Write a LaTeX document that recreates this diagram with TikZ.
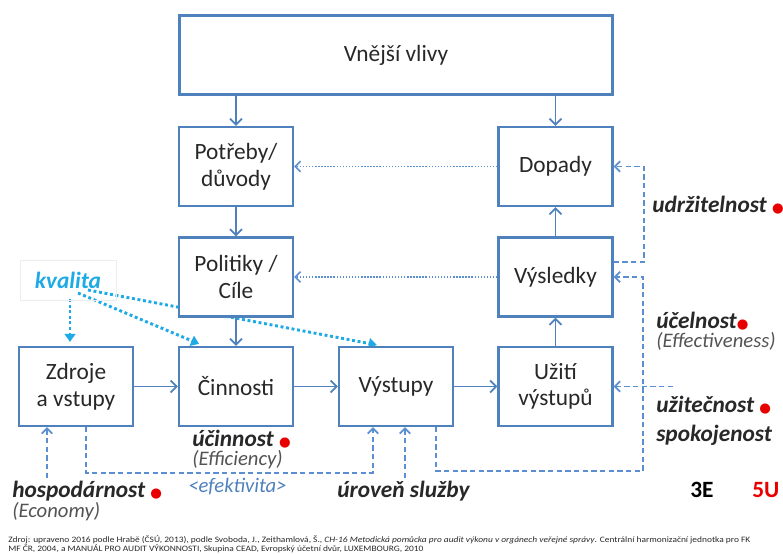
\documentclass[tikz,border=0pt]{standalone}
\usepackage{fontspec}
\setmainfont{Carlito}
\newfontfamily\dotfont{DejaVu Sans}
\newfontfamily\notefont[FakeStretch=1.14]{Carlito}
\usetikzlibrary{arrows.meta,backgrounds,calc}
\definecolor{boxblue}{RGB}{79,129,189}
\definecolor{linkblue}{RGB}{91,143,210}
\definecolor{kvalblue}{RGB}{30,170,230}
\definecolor{txtgray}{RGB}{40,40,40}
\definecolor{dotred}{RGB}{232,0,0}
\newcommand\reddot{{\dotfont\fontsize{10}{10}\selectfont\textcolor{dotred}{●}}}
\tikzset{
  stage/.style={draw=boxblue, line width=1.6pt, fill=white, minimum width=85.5pt,
    minimum height=59.25pt, align=center, text=txtgray,
    font=\fontsize{17.5}{20}\selectfont},
  flow/.style={draw=boxblue, line width=1.4pt, -{Straight Barb[length=4.5pt,width=9pt]}},
  feedback/.style={draw=linkblue, line width=1.2pt, dash pattern=on 1.1pt off 1.2pt,
    -{Straight Barb[length=4pt,width=8pt]}},
  measure/.style={draw=linkblue, line width=1.3pt, dash pattern=on 4pt off 2.5pt,
    -{Straight Barb[length=4pt,width=8pt]}},
  quality/.style={draw=kvalblue, line width=2.2pt, dash pattern=on 2.2pt off 2pt,
    -{Triangle[length=6pt,width=8pt]}},
  lbl/.style={anchor=base west, inner sep=0pt, text=txtgray,
    font=\fontsize{17.5}{20}\selectfont\bfseries\itshape},
  sublbl/.style={anchor=base west, inner sep=0pt, text=txtgray!80,
    font=\fontsize{15.5}{18}\selectfont\itshape},
}
\begin{document}
\begin{tikzpicture}[x=0.75pt,y=-0.75pt]
  \useasboundingbox (0,0) rectangle (783,554);
  \path
    (396,55) node[stage, minimum width=324.75pt] (vlivy) {Vnější vlivy}
    (236,166.5) node[stage] (potreby) {Potřeby/\\důvody}
    (555.5,166.5) node[stage] (dopady) {Dopady}
    (236,277) node[stage] (politiky) {Politiky /\\Cíle}
    (555.5,277) node[stage] (vysledky) {Výsledky}
    (76,386.5) node[stage] (zdroje) {Zdroje\\a vstupy}
    (236,386.5) node[stage] (cinnosti) {Činnosti}
    (396,386.5) node[stage] (vystupy) {Výstupy}
    (555.5,386.5) node[stage] (uziti) {Užití\\výstupů};
  \path
    (68,280) node[draw=black!7, minimum width=72pt, minimum height=30pt, text=kvalblue,
      font=\fontsize{17.5}{20}\selectfont\bfseries\itshape] (kvalita) {kvalita}
    (652,212) node[lbl] (udrz) {udržitelnost \reddot}
    (656,328) node[lbl] (ucel) {účelnost\reddot}
    (656,347) node[sublbl] (effect) {(Effectiveness)}
    (656,412) node[lbl] (uzit) {užitečnost \reddot}
    (656,441) node[lbl] (spok) {spokojenost}
    (192,446) node[lbl] (ucin) {účinnost \reddot}
    (192,465) node[sublbl] (effic) {(Efficiency)}
    (188,492) node[sublbl, text=boxblue] (efekt) {<efektivita>}
    (12,497) node[lbl] (hosp) {hospodárnost \reddot}
    (12,517) node[sublbl] (econ) {(Economy)}
    (337,497) node[lbl] (urov) {úroveň služby}
    (690,497) node[lbl, font=\fontsize{17.5}{20}\selectfont\bfseries, text=black] (tri) {3E}
    (752,497) node[lbl, font=\fontsize{17.5}{20}\selectfont\bfseries, text=dotred] (pet) {5U}
    (8,535) node[anchor=north west, inner sep=0pt, align=left, text=txtgray,
      font=\notefont\fontsize{6.2}{6.8}\selectfont] (zdroj)
      {Zdroj: upraveno 2016 podle Hrabě (ČSÚ, 2013), podle Svoboda, J., Zeithamlová, Š., \textit{CH-16 Metodická pomůcka pro audit výkonu v orgánech veřejné správy}. Centrální harmonizační jednotka pro FK\\
       MF ČR, 2004, a MANUÁL PRO AUDIT VÝKONNOSTI, Skupina CEAD, Evropský účetní dvůr, LUXEMBOURG, 2010};
  \coordinate (rt) at (643,471);
  \coordinate (uz0) at (673,386.5);
  \coordinate (ho0) at (47,478);
  \coordinate (ur0) at (405,478);
  \coordinate (k1) at (70,299);
  \coordinate (k2) at (78,293);
  \coordinate (k3) at (88,290);
  \begin{scope}
    \draw[flow] (vlivy.south -| potreby) -- (potreby);
    \draw[flow] (vlivy.south -| dopady) -- (dopady);
    \draw[flow] (potreby) -- (politiky);
    \draw[flow] (politiky) -- (cinnosti);
    \draw[flow] (zdroje) -- (cinnosti);
    \draw[flow] (cinnosti) -- (vystupy);
    \draw[flow] (vystupy) -- (uziti);
    \draw[flow] (uziti) -- (vysledky);
    \draw[flow] (vysledky) -- (dopady);
  \end{scope}
  \begin{scope}
    \draw[feedback] (dopady) -- (potreby);
    \draw[feedback] (vysledky) -- (politiky);
  \end{scope}
  \begin{scope}
    \draw[measure] ($(vysledky.east)+(0,-15)$) -- ++(30.25,0) |- (dopady.east);
    \draw[measure] ($(vystupy.south)+(40,0)$) |- (rt) |- (vysledky.east);
    \draw[measure] ($(zdroje.south)+(10,0)$) -- ++(0,46) -| ($(vystupy.south)+(-23,0)$);
    \draw[measure] (uz0) -- (uziti);
    \draw[measure] (ho0) -- (ho0 |- zdroje.south);
    \draw[measure] (ur0) -- (ur0 |- vystupy.south);
  \end{scope}
  \begin{scope}[on background layer]
    \draw[quality, shorten >=3pt] (k1) -- (k1 |- zdroje.north);
    \draw[quality, shorten >=4pt] (k2) -- ($(cinnosti.north)+(-32,0)$);
    \draw[quality, shorten >=4pt] (k3) -- ($(vystupy.north)+(-14,0)$);
  \end{scope}
\end{tikzpicture}
\end{document}
